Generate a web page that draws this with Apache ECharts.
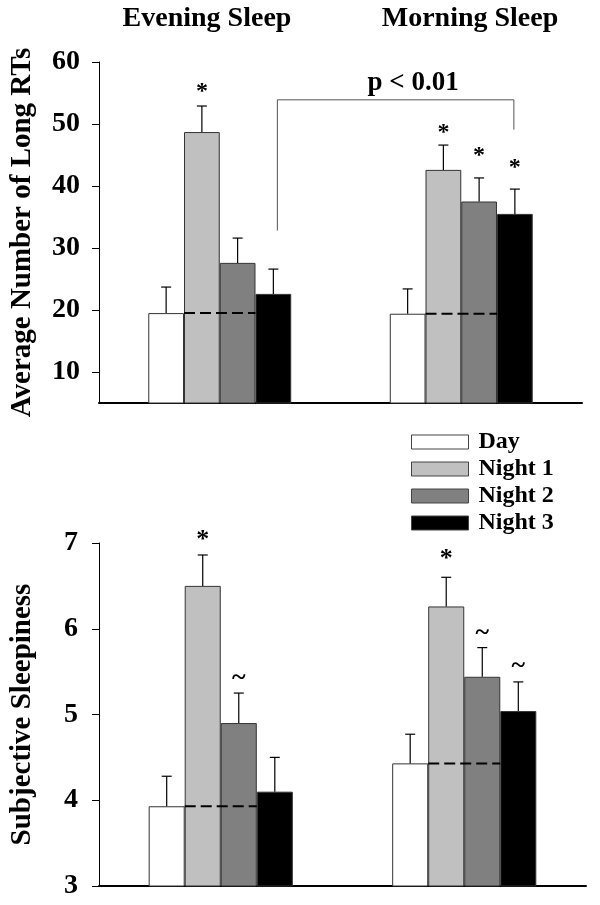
<!DOCTYPE html>
<html><head><meta charset="utf-8">
<script src="https://cdn.jsdelivr.net/npm/echarts@6/dist/echarts.min.js"></script>
<style>html,body{margin:0;padding:0;background:#fff}#c{width:600px;height:905px}</style>
</head><body><div id="c"></div>
<script>
// ---------- data ----------
const groups = ['Evening Sleep', 'Morning Sleep'];
const conditions = ['Day', 'Night 1', 'Night 2', 'Night 3'];

// Top panel: Average Number of Long RTs (Evening, Morning)
const rtDay    = [19.5, 19.4];
const rtNight1 = [48.7, 42.6];
const rtNight2 = [27.6, 37.5];
const rtNight3 = [22.6, 35.5];
const rtSemDay    = [4.2, 4.0];
const rtSemNight1 = [4.2, 4.0];
const rtSemNight2 = [4.0, 3.8];
const rtSemNight3 = [4.0, 4.0];
const rtTicks = [10, 20, 30, 40, 50, 60];
// significance marks [groupIndex, conditionIndex, yPosition, symbol]
const rtMarks = [[0, 1, 55.6, '*'], [1, 1, 49.0, '*'], [1, 2, 45.3, '*'], [1, 3, 43.5, '*']];
// bracket between Evening Night 3 and Morning Night 3
const bracketTop = 53.9;
const bracketLeftEnd = 32.8;
const bracketRightEnd = 49.1;
const bracketLabel = 'p < 0.01';

// Bottom panel: Subjective Sleepiness
const ssDay    = [3.93, 4.43];
const ssNight1 = [6.50, 6.26];
const ssNight2 = [4.90, 5.44];
const ssNight3 = [4.10, 5.04];
const ssSemDay    = [0.35, 0.34];
const ssSemNight1 = [0.36, 0.34];
const ssSemNight2 = [0.35, 0.34];
const ssSemNight3 = [0.40, 0.34];
const ssTicks = [3, 4, 5, 6, 7];
const ssMarks = [[0, 1, 7.07, '*'], [0, 2, 5.42, '~'], [1, 1, 6.84, '*'], [1, 2, 5.95, '~'], [1, 3, 5.56, '~']];

// ---------- styling ----------
const colors = ['#ffffff', '#c0c0c0', '#808080', '#000000'];
const FONT = '"Liberation Serif", "Times New Roman", serif';
const CAT_GAP = 0.408;

const chart = echarts.init(document.getElementById('c'), null, {renderer: 'canvas'});

function barCenter(api, g, s, v) {
  const p = api.coord([g, v]);
  const band = api.size([1, 0])[0];
  const groupW = band * (1 - CAT_GAP);
  const bw = groupW / conditions.length;
  return {x: p[0] - groupW / 2 + bw * (s + 0.5), y: p[1], bw: bw};
}

function barSeries(gridIdx, values) {
  return values.map((vals, s) => ({
    name: conditions[s], type: 'bar', xAxisIndex: gridIdx, yAxisIndex: gridIdx,
    data: vals, barGap: '0%', barCategoryGap: (CAT_GAP * 100) + '%',
    itemStyle: {color: colors[s], borderColor: '#333', borderWidth: 1},
    silent: true, z: 2
  }));
}

function annotSeries(gridIdx, values, sems, marks, markSize) {
  const data = [];
  values.forEach((vals, s) => vals.forEach((v, g) => data.push([g, s, v, v + sems[s][g], 'err', ''])));
  values[0].forEach((v, g) => data.push([g, 0, v, v, 'dash', '']));
  marks.forEach(m => data.push([m[0], m[1], m[2], m[2], 'mark', m[3]]));
  return {
    type: 'custom', xAxisIndex: gridIdx, yAxisIndex: gridIdx, clip: false, silent: true, z: 5,
    data: data,
    renderItem: function (params, api) {
      const item = data[params.dataIndex];
      const g = item[0], s = item[1], kind = item[4];
      if (kind === 'err') {
        const a = barCenter(api, g, s, item[2]);
        const b = barCenter(api, g, s, item[3]);
        return {type: 'group', children: [
          {type: 'line', shape: {x1: a.x, y1: a.y, x2: b.x, y2: b.y}, style: {stroke: '#000', lineWidth: 1.2}},
          {type: 'line', shape: {x1: b.x - 5, y1: b.y, x2: b.x + 5, y2: b.y}, style: {stroke: '#000', lineWidth: 1.2}}
        ]};
      }
      if (kind === 'dash') {
        const a = barCenter(api, g, 0, item[2]);
        const c = barCenter(api, g, 2, item[2]);
        return {type: 'line', shape: {x1: a.x + a.bw / 2, y1: a.y, x2: c.x + c.bw / 2, y2: a.y},
          style: {stroke: '#000', lineWidth: 2, lineDash: [11, 5]}};
      }
      const m = barCenter(api, g, s, item[2]);
      return {type: 'text', x: m.x, y: m.y + (item[5] === '*' ? 3 : 0),
        style: {text: item[5], font: 'bold ' + markSize + 'px ' + FONT, fill: '#000', align: 'center', verticalAlign: 'middle'}};
    }
  };
}

const bracketSeries = {
  type: 'custom', xAxisIndex: 0, yAxisIndex: 0, clip: false, silent: true, z: 5,
  data: [[0, 3, bracketTop, bracketLeftEnd, bracketRightEnd]],
  renderItem: function (params, api) {
    const l = barCenter(api, 0, 3, bracketLeftEnd);
    const r = barCenter(api, 1, 3, bracketRightEnd);
    const t = api.coord([0, bracketTop])[1];
    return {type: 'group', children: [
      {type: 'polyline', shape: {points: [[l.x + 4, l.y], [l.x + 4, t], [r.x - 1, t], [r.x - 1, r.y]]},
        style: {stroke: '#555', lineWidth: 1, fill: null}},
      {type: 'text', x: (l.x + r.x) / 2 + 19, y: t - 3,
        style: {text: bracketLabel, font: 'bold 27px ' + FONT, fill: '#000', align: 'center', verticalAlign: 'bottom'}}
    ]};
  }
};

const labelStyle = {fontFamily: FONT, fontWeight: 'bold', fontSize: 28, color: '#000'};
const nameStyle = {fontFamily: FONT, fontWeight: 'bold', fontSize: 29, color: '#000'};
const titleStyle = {fontFamily: FONT, fontWeight: 'bold', fontSize: 28, color: '#000'};

function yAxis(gridIdx, min, max, ticks, name, margin) {
  return {
    type: 'value', gridIndex: gridIdx, min: min, max: max,
    axisLine: {show: true, lineStyle: {color: '#000', width: 1}},
    axisTick: {show: true, length: 7, customValues: ticks, lineStyle: {color: '#000', width: 1}},
    axisLabel: Object.assign({customValues: ticks, margin: margin}, labelStyle),
    splitLine: {show: false},
    name: name, nameLocation: 'middle', nameGap: 62, nameRotate: 90, nameTextStyle: nameStyle
  };
}
function xAxis(gridIdx) {
  return {
    type: 'category', gridIndex: gridIdx, data: groups,
    axisLine: {lineStyle: {color: '#000', width: 2}},
    axisTick: {show: false}, axisLabel: {show: false}
  };
}

const option = {
  animation: false,
  backgroundColor: '#fff',
  title: [
    {text: groups[0], left: 202, top: 0, textAlign: 'center', textStyle: titleStyle},
    {text: groups[1], left: 465, top: 0, textAlign: 'center', textStyle: titleStyle}
  ],
  legend: {
    data: conditions, orient: 'vertical', left: 406, top: 425,
    icon: 'rect', itemWidth: 57, itemHeight: 14, itemGap: 3,
    itemStyle: {borderColor: '#444', borderWidth: 1},
    textStyle: {fontFamily: FONT, fontWeight: 'bold', fontSize: 24, color: '#000', padding: [0, 0, 0, 5]},
    selectedMode: false
  },
  grid: [
    {left: 99, right: 18, top: 62, bottom: 502, outerBoundsMode: 'none'},
    {left: 99, right: 14, top: 543, bottom: 19, outerBoundsMode: 'none'}
  ],
  xAxis: [xAxis(0), xAxis(1)],
  yAxis: [
    yAxis(0, 5, 60, rtTicks, 'Average Number of Long RTs', 19),
    yAxis(1, 3, 7, ssTicks, 'Subjective Sleepiness', 21)
  ],
  series: [].concat(
    barSeries(0, [rtDay, rtNight1, rtNight2, rtNight3]),
    [annotSeries(0, [rtDay, rtNight1, rtNight2, rtNight3], [rtSemDay, rtSemNight1, rtSemNight2, rtSemNight3], rtMarks, 24), bracketSeries],
    barSeries(1, [ssDay, ssNight1, ssNight2, ssNight3]),
    [annotSeries(1, [ssDay, ssNight1, ssNight2, ssNight3], [ssSemDay, ssSemNight1, ssSemNight2, ssSemNight3], ssMarks, 26)]
  )
};
chart.setOption(option);
</script>
</body></html>
